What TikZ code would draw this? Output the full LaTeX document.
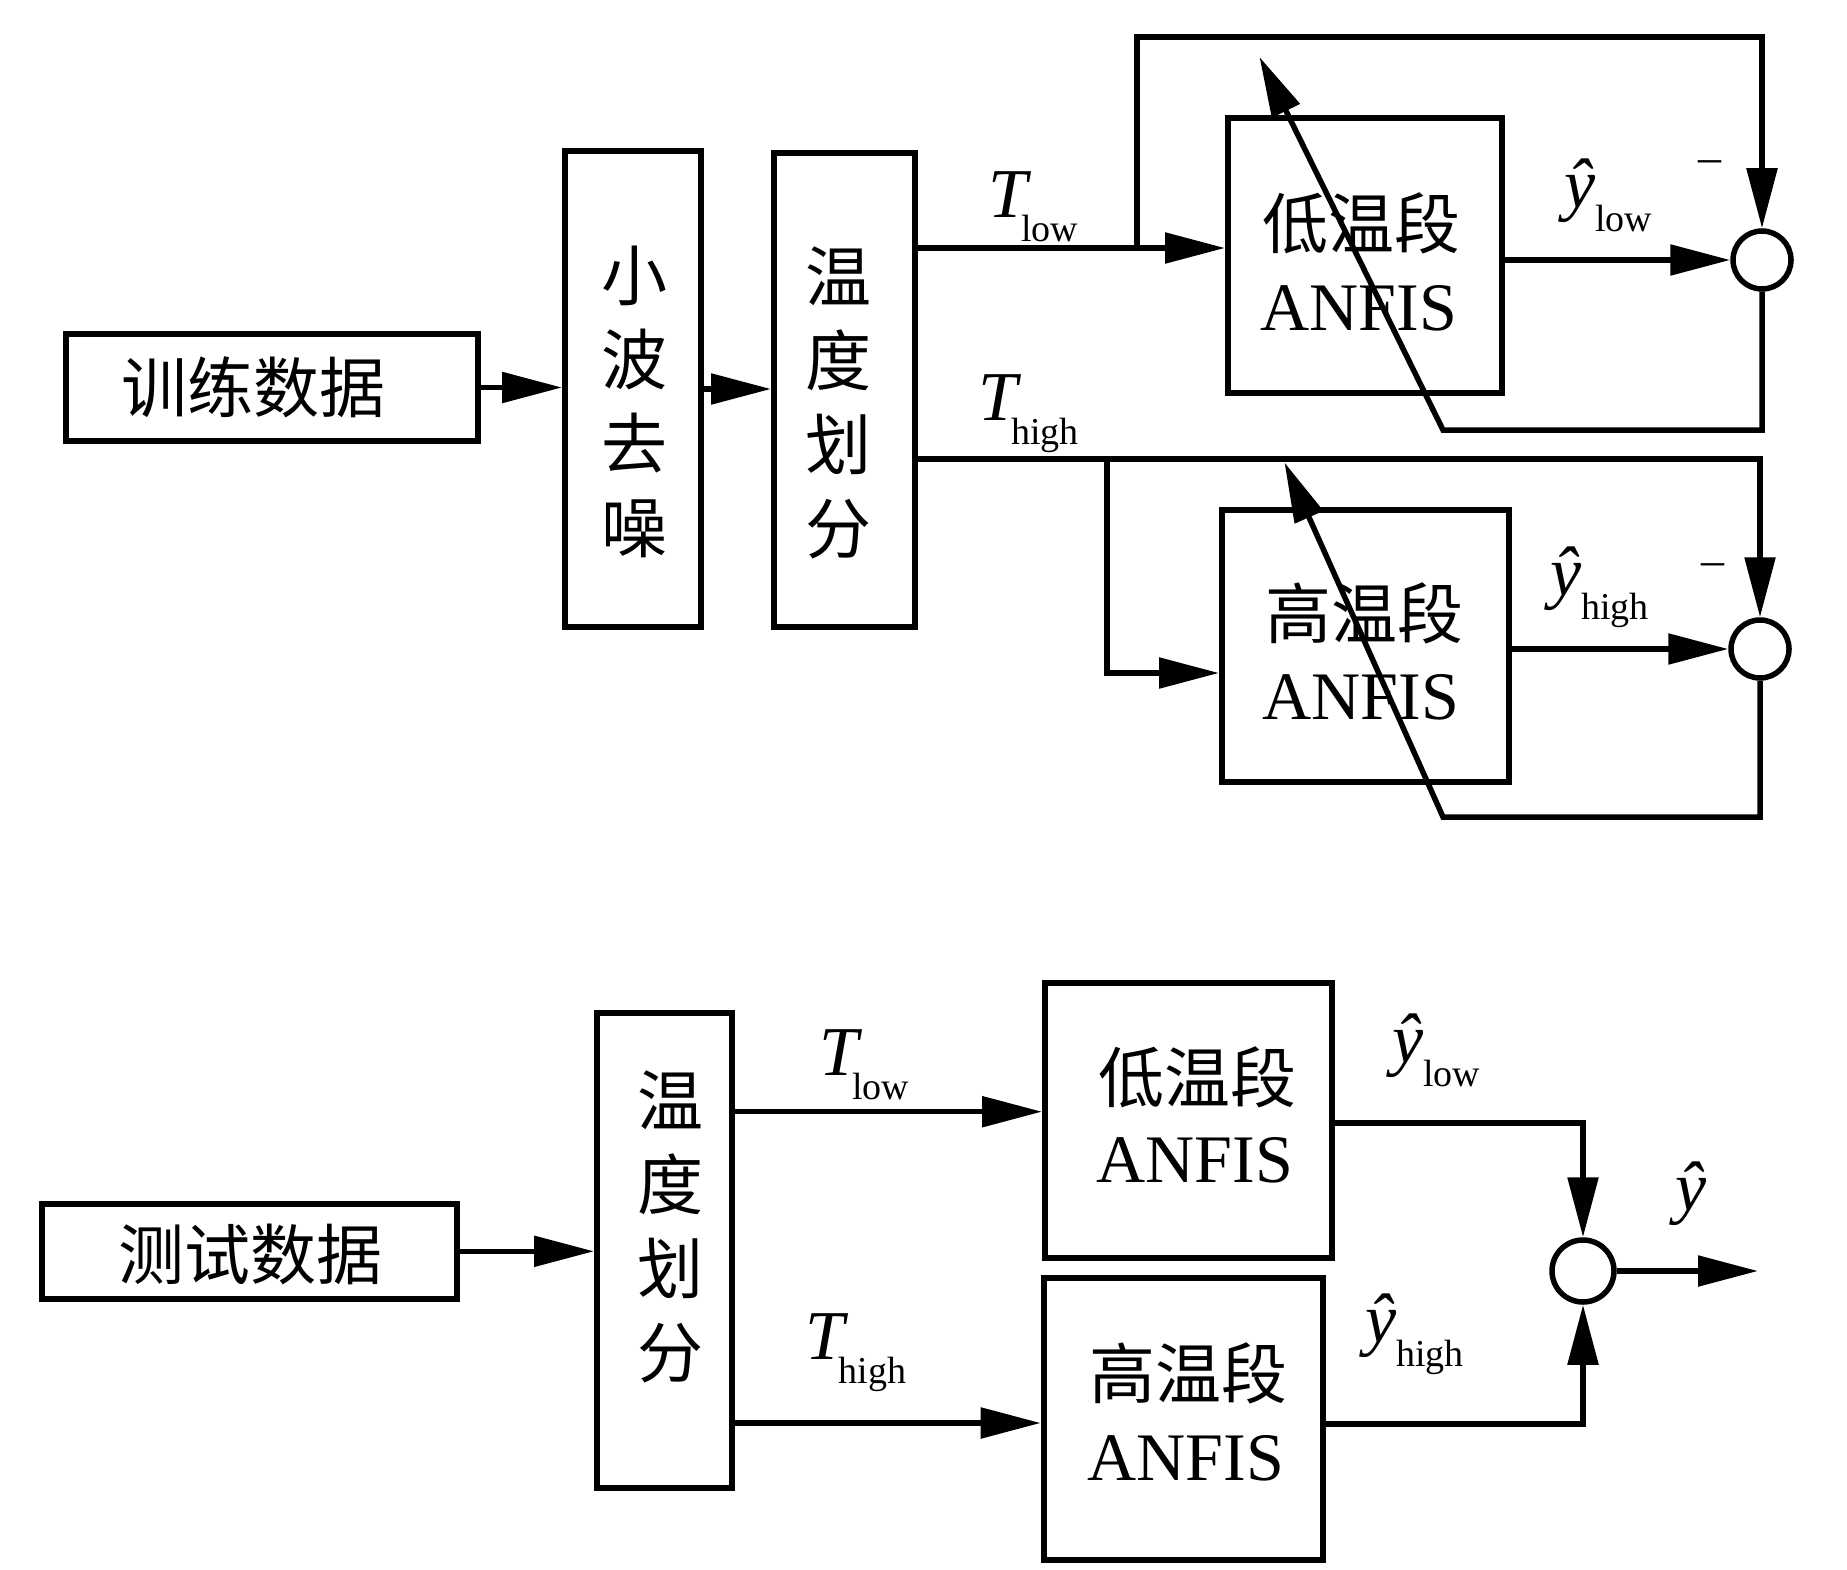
\documentclass[tikz,border=0pt]{standalone}
\usepackage{fontspec}
\setmainfont{Liberation Serif}
\newfontfamily\cjk{Noto Sans CJK SC}
\usetikzlibrary{arrows.meta,calc}
\newcommand\sublab[3]{#1\kern#3\raisebox{-24pt}{\fontsize{38}{38}\selectfont #2}}
\begin{document}
\begin{tikzpicture}[x=1pt,y=-1pt,
  box/.style={draw, line width=6pt, inner sep=0pt, rectangle},
  arr/.style={line width=5.5pt, -{Triangle[length=60pt,width=30pt]}},
  zh/.style={font=\cjk\fontsize{66}{84}\selectfont, inner sep=0pt, align=center},
  en/.style={font=\fontsize{68}{68}\selectfont, inner sep=0pt},
  lab/.style={anchor=base west, inner sep=0pt, font=\fontsize{70}{70}\selectfont},
  sumc/.style={draw, circle, line width=5.5pt, inner sep=0pt},
  minus/.style={inner sep=0pt, font=\fontsize{46}{46}\selectfont}
]
\useasboundingbox (0,0) rectangle (1847,1570);

% ---------- training part ----------
\node[box, minimum width=412pt, minimum height=107pt] (train) at (272,387.5) {};
\node[zh] (traint) at (253,387) {训练数据};
\node[box, minimum width=136pt, minimum height=476pt] (wav) at (633,389) {};
\node[zh] (wavt) at (634,402) {小\\波\\去\\噪};
\node[box, minimum width=141pt, minimum height=474pt] (div) at (844.5,390) {};
\node[zh] (divt) at (838,403) {温\\度\\划\\分};

\node[box, minimum width=274pt, minimum height=275pt] (lowA) at (1365,255.5) {};
\node[zh] (lowAz) at (1361,223) {低温段};
\node[en] (lowAe) at (1359,308) {ANFIS};
\node[box, minimum width=287pt, minimum height=272pt] (highA) at (1365.5,646) {};
\node[zh] (highAz) at (1364,613) {高温段};
\node[en] (highAe) at (1361,697) {ANFIS};

\node[sumc, minimum size=58pt] (s1) at (1762,260) {};
\node[sumc, minimum size=58pt] (s2) at (1760,649) {};

\coordinate (tl) at (0,248);
\coordinate (th) at (0,459);
\coordinate (b1) at (1137,248);
\coordinate (top1) at (1137,37);
\coordinate (r1) at (1443,430);
\coordinate (tip1) at (1259.5,57);
\coordinate (b2) at (1107,459);
\coordinate (c2) at (1107,673);
\coordinate (r2) at (1443,817);
\coordinate (tip2) at (1284.5,462.5);

\draw[arr] (train.east) -- (train.east -| wav.west);
\draw[arr] (wav.east) -- (wav.east -| div.west);
\draw[arr] (div.east |- tl) -- (lowA.west |- tl);
\draw[arr] (b1) -- (top1) -| (s1.north);
\draw[arr] (s1.west -| lowA.east) -- (s1.west);
\draw[arr] (s1.south) |- (r1) -- (tip1);
\draw[arr] (div.east |- th) -| (s2.north);
\draw[arr] (b2) -- (c2) -- (c2 -| highA.west);
\draw[arr] (s2.west -| highA.east) -- (s2.west);
\draw[arr] (s2.south) |- (r2) -- (tip2);

\node[lab] (Tl1) at (988,217.5) {\sublab{\textit{T}}{low}{-10pt}};
\node[lab] (Th1) at (978,420.6) {\sublab{\textit{T}}{high}{-10pt}};
\node[lab] (yl1) at (1564,208) {\sublab{\textit{ŷ}}{low}{0pt}};
\node[lab] (yh1) at (1550,595) {\sublab{\textit{ŷ}}{high}{0pt}};
\node[minus] (m1) at (1710,167) {\textendash};
\node[minus] (m2) at (1713,570) {\textendash};

% ---------- testing part ----------
\node[box, minimum width=415pt, minimum height=95pt] (test) at (249.5,1251.3) {};
\node[zh] (testt) at (250,1254) {测试数据};
\node[box, minimum width=134.5pt, minimum height=475pt] (div2) at (664.25,1250.5) {};
\node[zh] (div2t) at (670,1226.5) {温\\度\\划\\分};

\node[box, minimum width=286.7pt, minimum height=274.8pt] (lowB) at (1188.35,1120.4) {};
\node[zh] (lowBz) at (1197.6,1077) {低温段};
\node[en] (lowBe) at (1195,1160) {ANFIS};
\node[box, minimum width=278.8pt, minimum height=281.5pt] (highB) at (1183.1,1418.75) {};
\node[zh] (highBz) at (1188,1373.5) {高温段};
\node[en] (highBe) at (1186,1458) {ANFIS};

\node[sumc, minimum size=62pt] (s3) at (1583,1271) {};

\coordinate (tl2) at (0,1111.7);
\coordinate (th2) at (0,1423);
\coordinate (o1) at (0,1123);
\coordinate (o2) at (0,1424);
\coordinate (out) at (1758,1271);

\draw[arr] (test.east) -- (test.east -| div2.west);
\draw[arr] (div2.east |- tl2) -- (lowB.west |- tl2);
\draw[arr] (div2.east |- th2) -- (highB.west |- th2);
\draw[arr] (lowB.east |- o1) -| (s3.north);
\draw[arr] (highB.east |- o2) -| (s3.south);
\draw[arr] (s3.east) -- (out);

\node[lab] (Tl2) at (819,1075) {\sublab{\textit{T}}{low}{-10pt}};
\node[lab] (Th2) at (805.5,1359.7) {\sublab{\textit{T}}{high}{-10pt}};
\node[lab] (yl2) at (1392,1062) {\sublab{\textit{ŷ}}{low}{0pt}};
\node[lab] (yh2) at (1365,1342.5) {\sublab{\textit{ŷ}}{high}{0pt}};
\node[lab] (yo) at (1675,1210) {\textit{ŷ}};
\end{tikzpicture}
\end{document}
